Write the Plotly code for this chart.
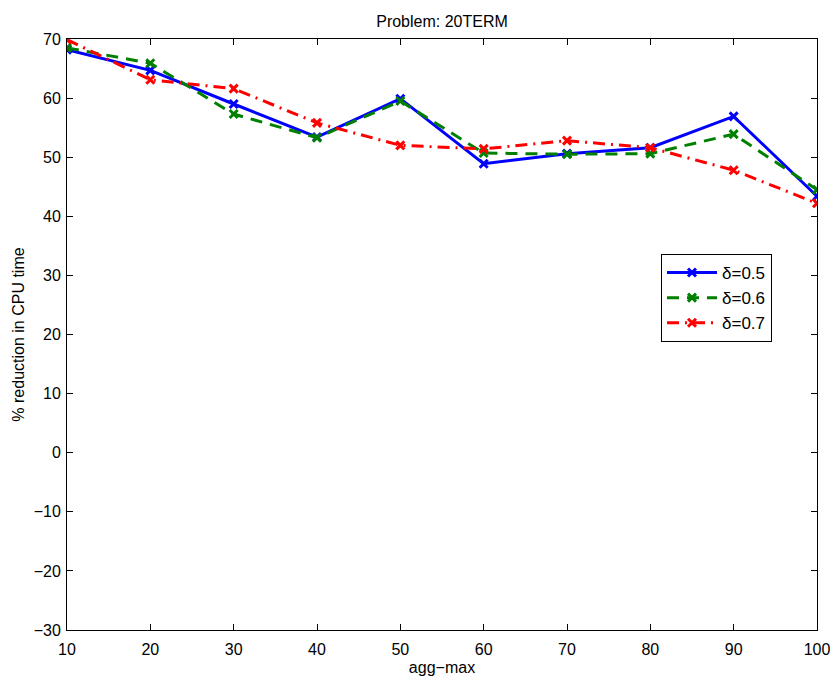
import plotly.graph_objects as go

agg_max = [10, 20, 30, 40, 50, 60, 70, 80, 90, 100]
d05 = [68.2, 64.7, 59.0, 53.4, 59.9, 48.9, 50.6, 51.6, 56.9, 43.4]
d06 = [68.5, 65.9, 57.3, 53.3, 59.5, 50.7, 50.5, 50.6, 53.9, 44.5]
d07 = [69.9, 63.1, 61.6, 55.8, 52.0, 51.4, 52.8, 51.6, 47.8, 42.2]
names = ["δ=0.5", "δ=0.6", "δ=0.7"]
y_ticks = [-30, -20, -10, 0, 10, 20, 30, 40, 50, 60, 70]

FONT = "Liberation Sans, Arial, Helvetica, sans-serif"

fig = go.Figure()
styles = [
    ("#0000ff", "solid", d05),
    ("#008000", "12px,8px", d06),
    ("#ff0000", "12px,6px,2px,6px", d07),
]
for name, (color, dash, ys) in zip(names, styles):
    fig.add_trace(go.Scatter(
        x=agg_max, y=ys, name=name, mode="lines+markers",
        line=dict(color=color, width=3, dash=dash),
        marker=dict(symbol="x-thin", size=8, color=color,
                    line=dict(color=color, width=3)),
    ))

axis_common = dict(
    showline=True, linecolor="black", linewidth=1, mirror="ticks",
    ticks="inside", ticklen=6, tickcolor="black", tickwidth=1,
    showgrid=False, zeroline=False, automargin=False,
    tickfont=dict(family=FONT, size=16, color="black"),
)

fig.update_layout(
    width=833, height=678,
    margin=dict(l=67, r=16, t=39, b=48),
    paper_bgcolor="white", plot_bgcolor="white",
    font=dict(family=FONT, color="black"),
    title=dict(text="Problem: 20TERM", x=442 / 833, xanchor="center",
               y=1 - 21 / 678, yanchor="middle",
               font=dict(family=FONT, size=16, color="black")),
    xaxis=dict(range=[10, 100], tickvals=agg_max, ticklabelstandoff=5,
               title=dict(text="agg−max", font=dict(family=FONT, size=16), standoff=4),
               **axis_common),
    yaxis=dict(range=[-30, 70], tickvals=y_ticks, ticklabelstandoff=2,
               ticktext=[str(v).replace("-", "−") for v in y_ticks],
               title=dict(text="% reduction in CPU time", font=dict(family=FONT, size=16), standoff=5),
               **axis_common),
    legend=dict(x=(661 - 67) / 750, y=(630 - 254) / 591, xanchor="left", yanchor="top",
                bgcolor="white", bordercolor="black", borderwidth=1,
                font=dict(family=FONT, size=17, color="black"),
                itemwidth=50, tracegroupgap=0),
    showlegend=True,
)

fig.write_html("out.html")
